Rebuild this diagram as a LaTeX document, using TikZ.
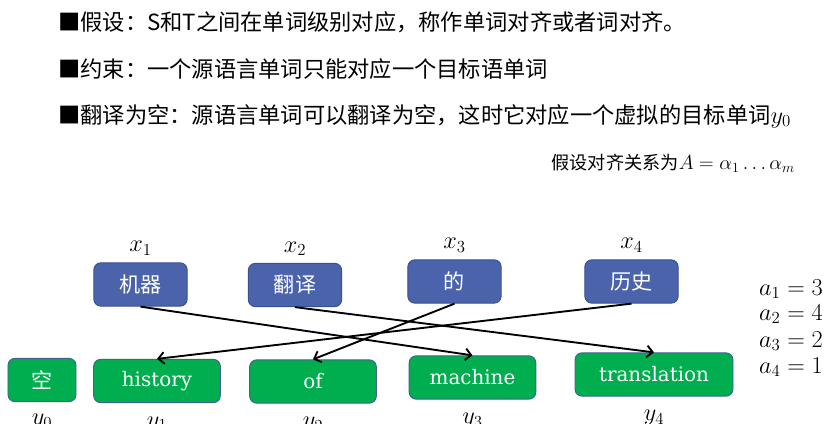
\documentclass[tikz,border=0pt]{standalone}
\usepackage{fontspec}
\usepackage{amsmath}
\usepackage{tikz}
\usetikzlibrary{positioning, arrows.meta}
\newfontfamily\cjk{Noto Sans CJK SC}
\newfontfamily\wordfont{DejaVu Serif}
\definecolor{srcblue}{HTML}{4A63AB}
\definecolor{srcedge}{HTML}{3A5090}
\definecolor{tgtgreen}{HTML}{00AE4F}
\definecolor{tgtedge}{HTML}{41628F}

\begin{document}
\begin{tikzpicture}[x=0.03cm, y=-0.03cm,
  src/.style={rectangle, rounded corners=6pt, draw=srcedge, line width=0.8pt, fill=srcblue, text=white, font=\cjk\fontsize{18}{20}\selectfont, minimum width=2.8cm, minimum height=1.3cm, inner sep=0pt},
  tgt/.style={rectangle, rounded corners=6pt, draw=tgtedge, line width=0.8pt, fill=tgtgreen, text=white, font=\wordfont\fontsize{17}{20}\selectfont, minimum height=1.3cm, inner sep=0pt},
  lbl/.style={inner sep=0pt, font=\fontsize{22}{24}\selectfont},
  link/.style={line width=1.6pt, -{Straight Barb[length=5pt,width=10pt]}}]
\useasboundingbox (0,0) rectangle (838,424);
% Bullet lines
\node[anchor=west, inner sep=0pt, font=\cjk\fontsize{19}{23}\selectfont] (t1) at (58,22) {■假设：S和T之间在单词级别对应，称作单词对齐或者词对齐。};
\node[anchor=west, inner sep=0pt, font=\cjk\fontsize{19}{23}\selectfont] (t2) at (58,69) {■约束：一个源语言单词只能对应一个目标语单词};
\node[anchor=west, inner sep=0pt, font=\cjk\fontsize{19}{23}\selectfont] (t3) at (58,116) {■翻译为空：源语言单词可以翻译为空，这时它对应一个虚拟的目标单词{\fontsize{22}{24}\selectfont$y_0$}};
\node[anchor=east, inner sep=0pt, font=\cjk\fontsize{15.5}{18}\selectfont] (t4) at (795,163) {假设对齐关系为{\fontsize{17.5}{20}\selectfont$A = \alpha_1 \ldots \alpha_m$}};
% Source words
\node[src] (s1) at (140.5,284.5) {机器};
\node[src] (s2) at (295,285) {翻译};
\node[src] (s3) at (454.5,281.5) {的};
\node[src] (s4) at (631.5,281.5) {历史};
% Target words
\node[tgt, minimum width=2.04cm, font=\cjk\fontsize{18}{20}\selectfont] (e0) at (42,380) {空};
\node[tgt, minimum width=3.8cm] (e1) at (157,381) {history};
\node[tgt, minimum width=3.8cm] (e2) at (313,381.5) {of};
\node[tgt, minimum width=3.8cm] (e3) at (472.5,377.5) {machine};
\node[tgt, minimum width=4.74cm] (e4) at (654,374.5) {translation};
% Labels
\node[lbl, above=0.2cm of s1] (x1) {$x_1$};
\node[lbl, above=0.2cm of s2] (x2) {$x_2$};
\node[lbl, above=0.2cm of s3] (x3) {$x_3$};
\node[lbl, above=0.2cm of s4] (x4) {$x_4$};
\node[lbl, below=0.36cm of e0] (y0) {$y_0$};
\node[lbl, below=0.4cm of e1] (y1) {$y_1$};
\node[lbl, below=0.4cm of e2] (y2) {$y_2$};
\node[lbl, below=0.4cm of e3] (y3) {$y_3$};
\node[lbl, below=0.4cm of e4] (y4) {$y_4$};
% Alignment links
\draw[link] (s1.south) -- (e3.north);
\draw[link] (s2.south) -- (e4.north);
\draw[link] (s3.south) -- (e2.north);
\draw[link] (s4.south) -- (e1.north);
% Alignment values
\node[lbl, anchor=west] (a1) at (759,289) {$a_1 = 3$};
\node[lbl, anchor=west] (a2) at (759,314) {$a_2 = 4$};
\node[lbl, anchor=west] (a3) at (759,341) {$a_3 = 2$};
\node[lbl, anchor=west] (a4) at (759,367) {$a_4 = 1$};
\end{tikzpicture}
\end{document}
